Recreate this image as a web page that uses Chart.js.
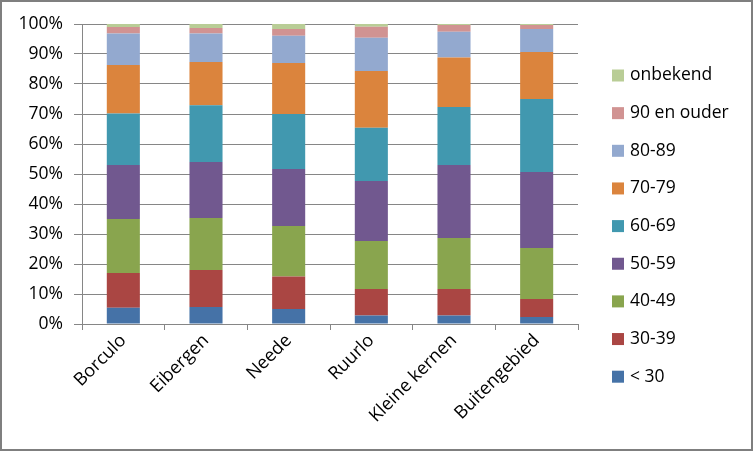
<!DOCTYPE html>
<html>
<head>
<meta charset="utf-8">
<script src="https://cdn.jsdelivr.net/npm/chart.js@4"></script>
<style>
  body { margin: 0; background: #fff; }
  #wrap { position: relative; width: 753px; height: 451px; border: 2px solid #7f7f7f; box-sizing: border-box; }
</style>
</head>
<body>
<div id="wrap"><canvas id="ageChart"></canvas></div>
<script>
// Leeftijdsopbouw per kern (percentages)
const kernen = ['Borculo', 'Eibergen', 'Neede', 'Ruurlo', 'Kleine kernen', 'Buitengebied'];
const tot30 = [5.4, 5.7, 5.0, 2.8, 2.8, 2.3];
const age30_39 = [11.6, 12.3, 10.8, 8.9, 8.9, 6.0];
const age40_49 = [18.0, 17.3, 16.9, 16.0, 17.0, 17.0];
const age50_59 = [18.0, 18.7, 19.0, 20.0, 24.3, 25.4];
const age60_69 = [17.2, 18.9, 18.3, 17.7, 19.3, 24.3];
const age70_79 = [16.1, 14.4, 17.0, 18.9, 16.5, 15.7];
const age80_89 = [10.5, 9.5, 9.1, 11.1, 8.6, 7.6];
const age90plus = [2.2, 1.9, 2.2, 3.7, 2.3, 1.4];
const onbekend = [1.0, 1.3, 1.7, 0.9, 0.3, 0.3];
const yTicks = [0, 10, 20, 30, 40, 50, 60, 70, 80, 90, 100];

const fontFamily = '"Open Sans", sans-serif';
const gridColor = '#868686';

// legend drawn at the right, top item = last series
const sideLegend = {
  id: 'sideLegend',
  afterDraw(chart) {
    const ctx = chart.ctx;
    ctx.save();
    ctx.font = '17.5px ' + fontFamily;
    ctx.textBaseline = 'middle';
    const items = chart.data.datasets.slice().reverse();
    items.forEach((ds, i) => {
      const y = 73.5 + i * 37.65;
      ctx.fillStyle = ds.backgroundColor;
      ctx.fillRect(610, y - 6, 12, 12);
      ctx.fillStyle = '#000';
      ctx.fillText(ds.label, 628, y);
    });
    ctx.restore();
  }
};

const ctx = document.getElementById('ageChart').getContext('2d');
const ageChart = new Chart(ctx, {
  type: 'bar',
  data: {
    labels: kernen,
    datasets: [
      { label: '< 30', data: tot30, backgroundColor: '#4572A7' },
      { label: '30-39', data: age30_39, backgroundColor: '#AA4643' },
      { label: '40-49', data: age40_49, backgroundColor: '#89A54E' },
      { label: '50-59', data: age50_59, backgroundColor: '#71588F' },
      { label: '60-69', data: age60_69, backgroundColor: '#4198AF' },
      { label: '70-79', data: age70_79, backgroundColor: '#DB843D' },
      { label: '80-89', data: age80_89, backgroundColor: '#93A9CF' },
      { label: '90 en ouder', data: age90plus, backgroundColor: '#D19392' },
      { label: 'onbekend', data: onbekend, backgroundColor: '#B9CD96' }
    ]
  },
  options: {
    responsive: true,
    maintainAspectRatio: false,
    animation: false,
    layout: {
      padding: { top: 22, right: 173, left: 0, bottom: 0 }
    },
    datasets: {
      bar: {
        categoryPercentage: 1,
        barPercentage: 0.4,
        borderWidth: 0
      }
    },
    scales: {
      x: {
        stacked: true,
        afterFit: (scale) => { scale.height = 125; },
        grid: {
          offset: true,
          drawOnChartArea: false,
          color: gridColor,
          tickLength: 6
        },
        border: { color: gridColor },
        ticks: {
          minRotation: 45,
          maxRotation: 45,
          padding: 0,
          color: '#000',
          font: { family: fontFamily, size: 18 }
        }
      },
      y: {
        stacked: true,
        min: 0,
        max: 100,
        afterFit: (scale) => { scale.width = 80; },
        afterBuildTicks: (scale) => { scale.ticks = yTicks.map(v => ({ value: v })); },
        grid: {
          color: gridColor,
          tickLength: 8
        },
        border: { color: gridColor },
        ticks: {
          padding: 11,
          color: '#000',
          font: { family: fontFamily, size: 17.5 },
          callback: (v) => v + '%'
        }
      }
    },
    plugins: {
      legend: { display: false },
      tooltip: { enabled: false }
    }
  },
  plugins: [sideLegend]
});
</script>
</body>
</html>
